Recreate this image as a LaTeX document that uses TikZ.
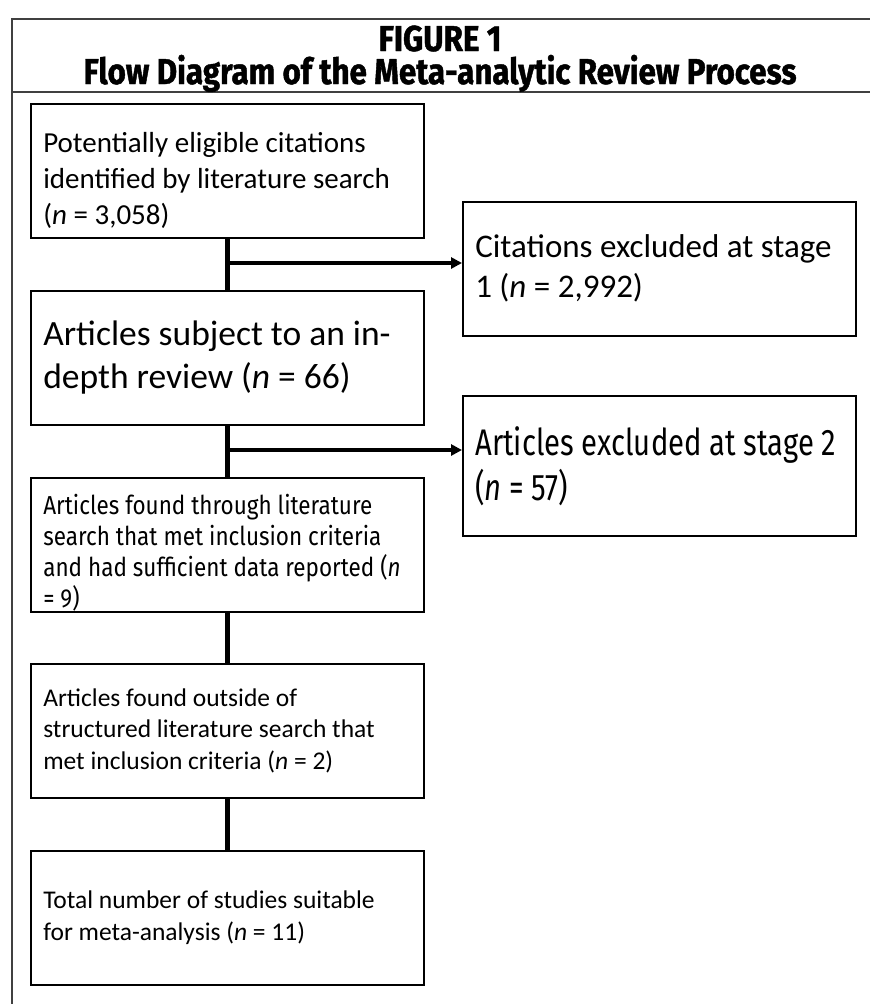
\documentclass[tikz,border=0pt]{standalone}
\usepackage{fontspec}
\setmainfont{Carlito}
\newfontfamily\condfont{Fira Sans}[FakeStretch=0.865]
\newfontfamily\condfontb{Fira Sans}[FakeStretch=0.79]
\newfontfamily\titlefont{Fira Sans}[FakeStretch=0.87,FakeBold=1.2,UprightFont=* Bold]
\usetikzlibrary{arrows.meta}
\tikzset{
  box/.style={draw=black, line width=1.6pt, minimum width=393pt, minimum height=134pt,
    text width=368pt, align=left, inner sep=0pt, anchor=north west,
    execute at begin node={\spaceskip=0pt\xspaceskip=0pt}},
  frame/.style={draw=black!75, line width=1.4pt},
  title/.style={font=\titlefont\fontsize{36}{40}\selectfont, anchor=base, inner sep=0pt},
  link/.style={draw=black, line width=4.5pt},
  arr/.style={draw=black, line width=3.2pt, -{Triangle[length=11pt,width=11pt]}}
}
\begin{document}
\begin{tikzpicture}[x=1pt,y=-1pt]
\useasboundingbox (0,0) rectangle (870,1004);
% outer frame
\draw[frame] (870,19) -- (12,19) -- (12,1004);
\draw[frame] (12,92) -- (870,92);
\node[title] (t1) at (440,51) {FIGURE 1};
\node[title] (t2) at (440,84) {Flow Diagram of the Meta-analytic Review Process};
% boxes
\node[box, font=\fontsize{29}{36}\selectfont] (b1) at (30,103)
  {\rule{0pt}{39pt}Potentially eligible citations\\identified by literature search\\(\textit{n} = 3,058)};
\node[box, font=\fontsize{35.5}{43}\selectfont] (b2) at (30,290)
  {Articles subject to an in-\\depth review (\textit{n} = 66)};
\node[box, font=\condfont\fontsize{26}{31}\selectfont] (b3) at (30,477)
  {\rule{0pt}{37pt}Articles found through literature\\search that met inclusion criteria\\and had sufficient data reported (\textit{n}\\= 9)};
\node[box, font=\fontsize{25.5}{31.5}\selectfont] (b4) at (30,663)
  {Articles found outside of\\structured literature search that\\met inclusion criteria (\textit{n} = 2)};
\node[box, font=\fontsize{25.5}{31.5}\selectfont] (b5) at (30,850)
  {Total number of studies suitable\\for meta-analysis (\textit{n} = 11)};
\node[box, font=\fontsize{33}{40}\selectfont] (e1) at (462,201)
  {Citations excluded at stage\\1 (\textit{n} = 2,992)};
\node[box, minimum height=140pt, font=\condfontb\fontsize{37}{45}\selectfont] (e2) at (462,395)
  {Articles excluded at stage 2\\(\textit{n} = 57)};
% connectors
\draw[link] (b1.south) -- (b2.north);
\draw[link] (b2.south) -- (b3.north);
\draw[link] (b3.south) -- (b4.north);
\draw[link] (b4.south) -- (b5.north);
\coordinate (j1) at (b1.south |- 0,263);
\coordinate (j2) at (b2.south |- 0,450);
\draw[arr] (j1) -- (j1 -| e1.west);
\draw[arr] (j2) -- (j2 -| e2.west);
\end{tikzpicture}
\end{document}
